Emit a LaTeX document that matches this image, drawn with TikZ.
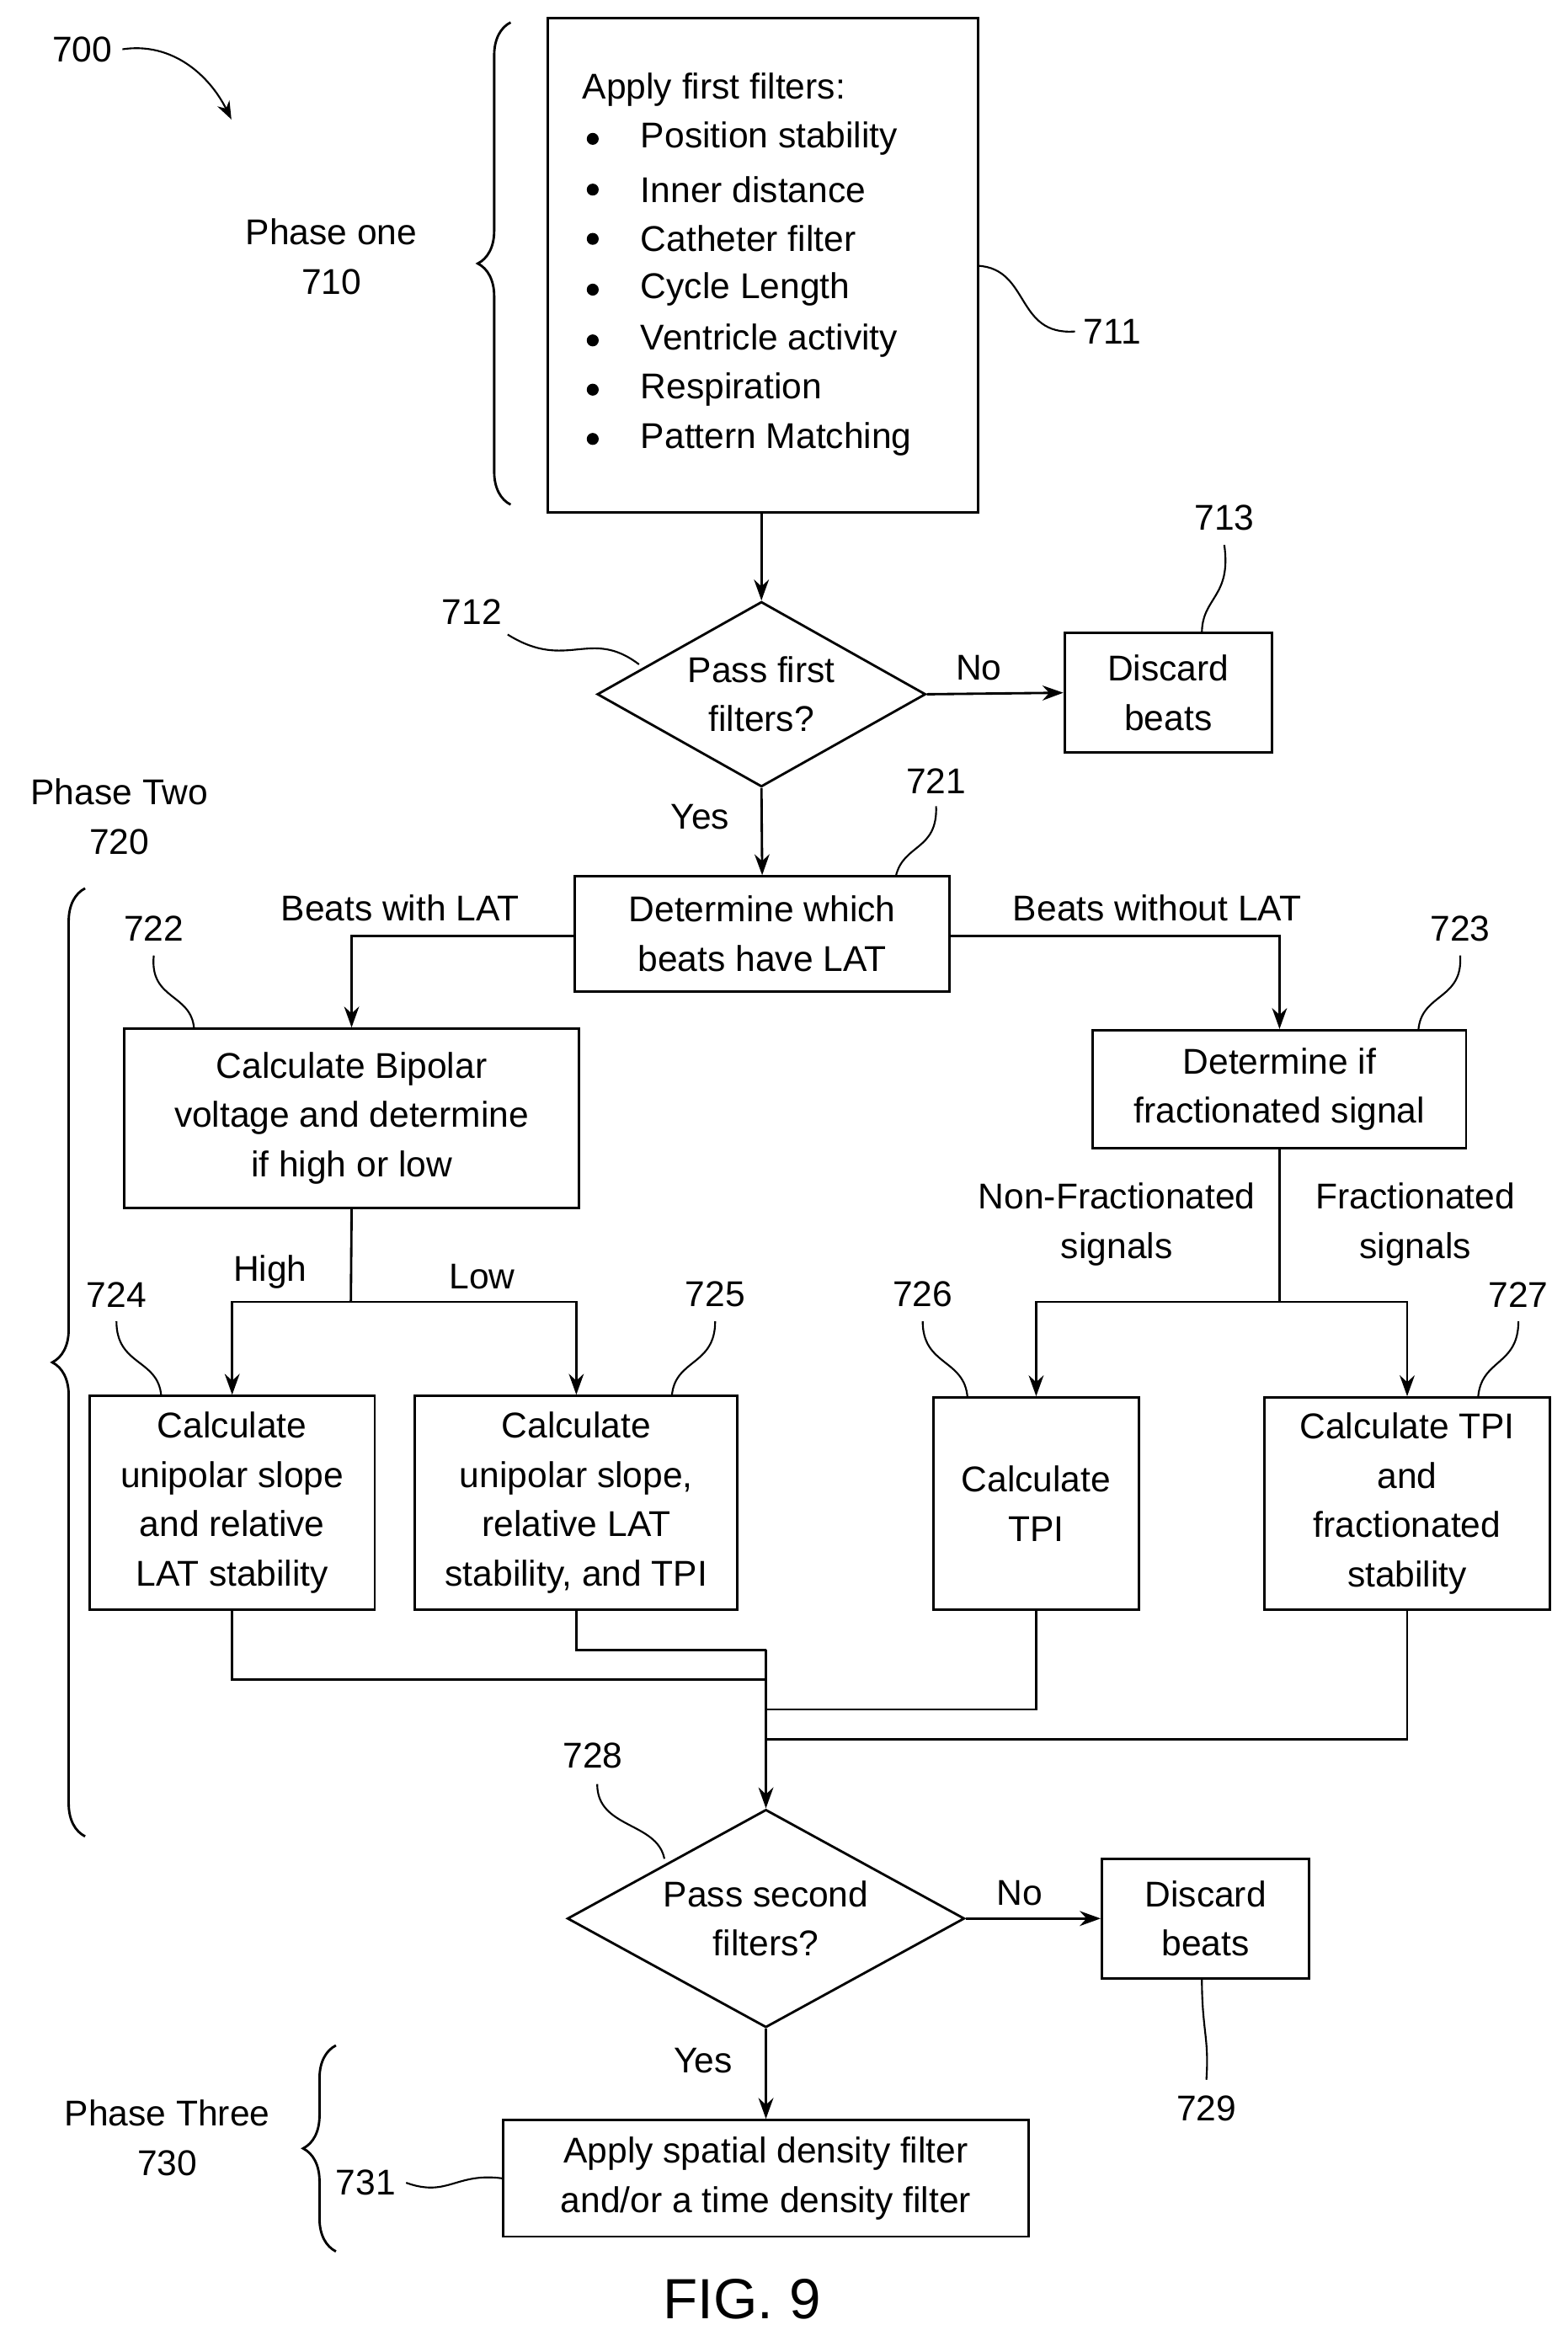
\documentclass[tikz,border=0pt]{standalone}
\usepackage{fontspec}
\setmainfont{Liberation Sans}
\usetikzlibrary{arrows.meta,shapes.geometric,decorations.pathreplacing}
\begin{document}
\begin{tikzpicture}[x=1pt,y=-1pt,
  every node/.style={font=\fontsize{24}{33}\selectfont, align=center, inner sep=0pt},
  box/.style={draw, line width=1.6pt},
  ln/.style={line width=1.6pt},
  arr/.style={line width=1.6pt,-{Stealth[length=14pt,width=10pt]}},
  lead/.style={line width=1.2pt},
  br/.style={line width=1.6pt,decorate,decoration={brace,amplitude=22pt}}]
\useasboundingbox (0,0) rectangle (1050,1568);
% 711
\draw[box] (367,12) rectangle (655,343);
\node (b711) at (511,178) {};
\node[anchor=west] (t711) at (390,60) {Apply first filters:};
\foreach \y/\t in {93/Position stability,127/Inner distance,160/Catheter filter,194/Cycle Length,228/Ventricle activity,261/Respiration,294/Pattern Matching}{
  \fill (397,\y) circle (4);
  \node[anchor=west] at (429,\y) {\t};}
\draw[br] (342,338) -- (342,15);
\node (p1) at (222,172) {Phase one\\710};
\node (l700) at (55,33) {700};
\draw[lead,-{Stealth[length=12pt,width=9pt]}] (82,33) .. controls (115,28) and (140,50) .. (155,80);
\node (l711) at (745,222) {711};
\draw[lead] (655,178) .. controls (690,180) and (680,225) .. (720,222);
% 712
\node[draw,diamond,line width=1.6pt,minimum width=220pt,minimum height=124pt,aspect=1.77] (d712) at (510,465) {Pass first\\filters?};
\draw[arr] (510,343) -- (d712.north);
\node[box,minimum width=139pt,minimum height=80pt] (b713) at (782.5,464) {Discard\\beats};
\draw[arr] (d712.east) -- (b713.west) node[pos=0.38,above=8pt] {No};
\node (l712) at (316,410) {712};
\draw[lead] (340,425) .. controls (380,450) and (395,420) .. (428,445);
\node (l713) at (820,347) {713};
\draw[lead] (820,365) .. controls (825,400) and (805,400) .. (805,424);
% 721
\node (yes1) at (469,547) {Yes};
\node[box,minimum width=251pt,minimum height=77pt] (b721) at (510.5,625.5) {Determine which\\beats have LAT};
\draw[arr] (d712.south) -- (b721.north);
\node (l721) at (627,523) {721};
\draw[lead] (627,540) .. controls (628,570) and (605,565) .. (600,587);
\node (p2) at (80,547) {Phase Two\\720};
\draw[br] (57,1230) -- (57,595);
\node (bwl) at (268,608) {Beats with LAT};
\node (bwol) at (775,608) {Beats without LAT};
% 722, 723
\node[box,minimum width=305pt,minimum height=120pt] (b722) at (235.5,749) {Calculate Bipolar\\voltage and determine\\if high or low};
\node[box,minimum width=250pt,minimum height=79pt] (b723) at (857,729.5) {Determine if\\fractionated signal};
\draw[arr] (b721.west|-0,627) -| (b722.north);
\draw[arr] (b721.east|-0,627) -| (b723.north);
\node (l722) at (103,622) {722};
\draw[lead] (103,640) .. controls (100,670) and (128,665) .. (130,689);
\node (l723) at (978,622) {723};
\draw[lead] (978,640) .. controls (980,670) and (952,665) .. (950,690);
% 724-727
\node[box,minimum width=191pt,minimum height=143pt] (b724) at (155.5,1006.5) {Calculate\\unipolar slope\\and relative\\LAT stability};
\node[box,minimum width=216pt,minimum height=143pt] (b725) at (386,1006.5) {Calculate\\unipolar slope,\\relative LAT\\stability, and TPI};
\node[box,minimum width=138pt,minimum height=142pt] (b726) at (694,1007) {Calculate\\TPI};
\node[box,minimum width=191pt,minimum height=142pt] (b727) at (942.5,1007) {Calculate TPI\\and\\fractionated\\stability};
\coordinate (s1) at (235,872);
\draw[ln] (b722.south) -- (s1);
\draw[arr] (s1) -| (b724.north);
\draw[arr] (s1) -| (b725.north);
\node (hi) at (181,852) {High};
\node (lo) at (323,855) {Low};
\coordinate (s2) at (857,872);
\draw[ln] (b723.south) -- (s2);
\draw[arr] (s2) -| (b726.north);
\draw[arr] (s2) -| (b727.north);
\node (nf) at (748,820) {Non-Fractionated\\signals};
\node (fr) at (948,820) {Fractionated\\signals};
\node (l724) at (78,867) {724};
\draw[lead] (78,885) .. controls (78,915) and (106,910) .. (108,935);
\node (l725) at (479,867) {725};
\draw[lead] (479,885) .. controls (479,915) and (452,910) .. (450,935);
\node (l726) at (618,867) {726};
\draw[lead] (618,885) .. controls (618,915) and (646,910) .. (648,936);
\node (l727) at (1017,867) {727};
\draw[lead] (1017,885) .. controls (1017,915) and (992,910) .. (990,936);
% merge
\coordinate (m1) at (513,1105);
\draw[ln] (b725.south) |- (m1);
\draw[ln] (b724.south) |- (513,1125);
\draw[ln] (b726.south) |- (513,1145);
\draw[ln] (b727.south) |- (513,1165);
% 728
\node[draw,diamond,line width=1.6pt,minimum width=266pt,minimum height=146pt,aspect=1.82] (d728) at (513,1285) {Pass second\\filters?};
\draw[arr] (m1) -- (d728.north);
\node[box,minimum width=139pt,minimum height=80pt] (b729) at (807.5,1285) {Discard\\beats};
\draw[arr] (d728.east) -- (b729.west) node[pos=0.4,above=8pt] {No};
\node (l728) at (397,1176) {728};
\draw[lead] (400,1195) .. controls (400,1225) and (440,1220) .. (445,1245);
\node (l729) at (808,1412) {729};
\draw[lead] (805,1325) .. controls (805,1360) and (810,1365) .. (808,1393);
% 731
\node (yes2) at (471,1380) {Yes};
\node[box,minimum width=352pt,minimum height=78pt] (b731) at (513,1459) {Apply spatial density filter\\and/or a time density filter};
\draw[arr] (d728.south) -- (b731.north);
\node (l731) at (245,1462) {731};
\draw[lead] (272,1462) .. controls (300,1472) and (305,1455) .. (b731.west);
\draw[br] (225,1508) -- (225,1370);
\node (p3) at (112,1432) {Phase Three\\730};
\node[font=\fontsize{38}{40}\selectfont] (fig) at (497,1540) {FIG. 9};
\end{tikzpicture}
\end{document}
